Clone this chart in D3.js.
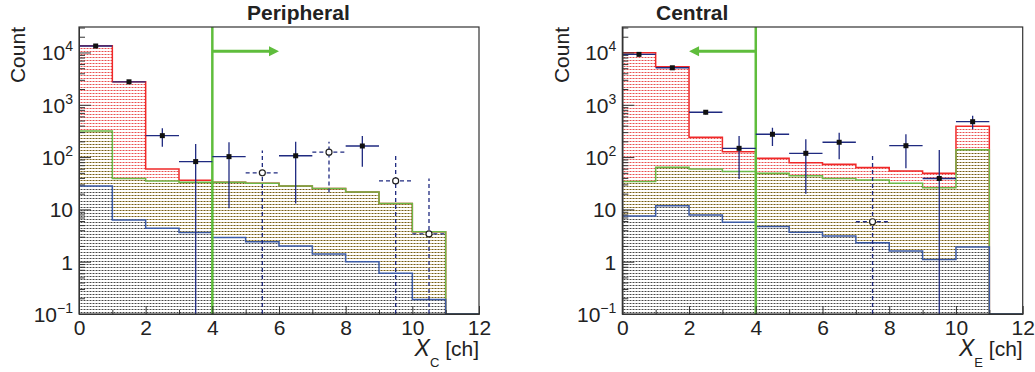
<!DOCTYPE html>
<html>
<head>
<meta charset="utf-8">
<script src="https://cdn.jsdelivr.net/npm/d3@7"></script>
<style>
body { margin: 0; background: #fff; }
svg { font-family: "Liberation Sans", Arial, sans-serif; }
</style>
</head>
<body>
<svg id="chart" width="1035" height="372"></svg>
<script>
// bin lower edges, every bin is 1 ch wide (bin 11 is empty)
var binEdges = [0, 1, 2, 3, 4, 5, 6, 7, 8, 9, 10]
var xTicks = [0, 2, 4, 6, 8, 10, 12]
var yTicks = [0.1, 1, 10, 100, 1000, 10000]
var yTickBase = ['10', '1', '10', '10', '10', '10']
var yTickExp = ['\u22121', '', '', '2', '3', '4']

// Peripheral
var periRed = [13500, 2750, 59, 36, 33, 31.5, 28, 25, 21.5, 13, 3.75]
var periGreen = [316, 39, 35, 33, 33, 31.5, 28, 25, 21.5, 13, 3.75]
var periBlue = [28, 6.3, 4.35, 3.6, 2.9, 2.4, 2.0, 1.4, 1.0, 0.6, 0.19]
var periData = [13300, 2750, 257, 82, 102, 50, 106, 124, 163, 35, 3.4]
var periLow = [13100, 2680, 158, 0.01, 10.5, 0.01, 13, 21, 65, 0.01, 0.01]
var periHigh = [13500, 2820, 355, 178, 192, 133, 196, 196, 253, 114, 39]
var periOpen = [0, 0, 0, 0, 0, 1, 0, 1, 0, 1, 1]

// Central
var centRed = [9900, 5350, 239, 127, 95, 78, 73, 63, 54, 49, 388]
var centGreen = [34, 64, 59, 53, 49, 44, 39, 36.5, 31.5, 26, 138]
var centBlue = [7.5, 11.8, 7.8, 5.7, 4.7, 3.65, 3.1, 2.3, 1.6, 1.1, 1.9]
var centData = [9200, 5100, 720, 147, 273, 118, 192, 5.8, 165, 39, 475]
var centLow = [9050, 5000, 650, 38, 163, 20, 91, 0.01, 61, 0.01, 340]
var centHigh = [9350, 5200, 790, 253, 365, 219, 293, 110, 273, 137, 620]
var centOpen = [0, 0, 0, 0, 0, 0, 0, 1, 0, 0, 0]

var cutValue = 4
var arrowLevel = 10500

var svg = d3.select('#chart')
var defs = svg.append('defs')

// ROOT-like dotted fill styles
function addPattern(id, dot, light) {
    var p = defs.append('pattern')
        .attr('id', id)
        .attr('width', 3)
        .attr('height', 3)
        .attr('patternUnits', 'userSpaceOnUse')
    p.append('rect').attr('width', 3).attr('height', 3).attr('fill', '#fff')
    p.append('rect').attr('x', 1).attr('width', 2).attr('height', 1).attr('fill', light)
    p.append('rect').attr('width', 1).attr('height', 1).attr('fill', dot)
}
addPattern('fillRed', '#e84e4e', '#f5aaaa')
addPattern('fillOlive', '#6a5a22', '#c2ae7a')
addPattern('fillGrey', '#444', '#aaa')

var frame = { top: 27, bottom: 314 }

var panels = [
    { title: 'Peripheral', titleX: 247, sub: 'C', left: 79, right: 479, countX: 25,
      red: periRed, green: periGreen, blue: periBlue,
      data: periData, low: periLow, high: periHigh, open: periOpen, arrowTo: 6 },
    { title: 'Central', titleX: 656, sub: 'E', left: 622.3, right: 1022.7, countX: 569,
      red: centRed, green: centGreen, blue: centBlue,
      data: centData, low: centLow, high: centHigh, open: centOpen, arrowTo: 2 },
]

panels.forEach(function (p, k) {
    var x = d3.scaleLinear().domain([0, 12]).range([p.left, p.right])
    var y = d3.scaleLog().domain([0.1, 30700]).range([frame.bottom, frame.top]).clamp(true)

    var clipId = 'clip' + k
    defs.append('clipPath').attr('id', clipId)
        .append('rect')
        .attr('x', p.left).attr('y', frame.top)
        .attr('width', p.right - p.left).attr('height', frame.bottom - frame.top)

    var g = svg.append('g')
    var plot = g.append('g').attr('clip-path', 'url(#' + clipId + ')')

    // step histogram points, falling to zero after the last bin
    function steps(vals) {
        var pts = binEdges.map(function (e, i) { return { x: e, v: vals[i] } })
        pts.push({ x: 11, v: 1e-6 })
        pts.push({ x: 12, v: 1e-6 })
        return pts
    }
    var area = d3.area().curve(d3.curveStepAfter)
        .x(d => x(d.x)).y0(frame.bottom).y1(d => y(d.v))
    var line = d3.line().curve(d3.curveStepAfter)
        .x(d => x(d.x)).y(d => y(d.v))

    var hists = [
        { vals: p.red, fill: 'url(#fillRed)', stroke: '#f02828' },
        { vals: p.green, fill: 'url(#fillOlive)', stroke: '#6cb847' },
        { vals: p.blue, fill: 'url(#fillGrey)', stroke: '#3b5ba6' },
    ]
    plot.selectAll('path.area')
        .data(hists)
        .join('path')
        .attr('class', 'area')
        .attr('d', d => area(steps(d.vals)))
        .attr('fill', d => d.fill)
    plot.selectAll('path.outline')
        .data(hists)
        .join('path')
        .attr('class', 'outline')
        .attr('d', d => line(steps(d.vals)))
        .attr('fill', 'none')
        .attr('stroke', d => d.stroke)
        .attr('stroke-width', 1.5)

    // cut line and arrow
    plot.append('line')
        .attr('x1', x(cutValue)).attr('x2', x(cutValue))
        .attr('y1', frame.top).attr('y2', frame.bottom)
        .attr('stroke', '#5fbd3c').attr('stroke-width', 2.5)
    var dir = p.arrowTo > cutValue ? 1 : -1
    var tip = x(p.arrowTo)
    var ay = y(arrowLevel)
    plot.append('line')
        .attr('x1', x(cutValue)).attr('x2', tip - dir * 8)
        .attr('y1', ay).attr('y2', ay)
        .attr('stroke', '#5fbd3c').attr('stroke-width', 3)
    plot.append('path')
        .attr('d', 'M' + tip + ',' + ay + 'L' + (tip - dir * 10) + ',' + (ay - 5) + 'L' + (tip - dir * 10) + ',' + (ay + 5) + 'Z')
        .attr('fill', '#5fbd3c')

    // data points with error bars
    var pts = binEdges.map(function (e, i) {
        return { x: e, v: p.data[i], lo: p.low[i], hi: p.high[i], open: p.open[i] }
    })
    plot.selectAll('line.ex')
        .data(pts)
        .join('line')
        .attr('class', 'ex')
        .attr('x1', d => x(d.x)).attr('x2', d => x(d.x + 1))
        .attr('y1', d => y(d.v)).attr('y2', d => y(d.v))
        .attr('stroke', '#1f2a80').attr('stroke-width', 1.3)
        .attr('stroke-dasharray', d => d.open ? '4,3' : null)
    plot.selectAll('line.ey')
        .data(pts)
        .join('line')
        .attr('class', 'ey')
        .attr('x1', d => x(d.x + 0.5)).attr('x2', d => x(d.x + 0.5))
        .attr('y1', d => y(d.lo)).attr('y2', d => y(d.hi))
        .attr('stroke', '#1f2a80').attr('stroke-width', 1.3)
        .attr('stroke-dasharray', d => d.open ? '4,3' : null)
    plot.selectAll('rect.mk')
        .data(pts.filter(d => !d.open))
        .join('rect')
        .attr('class', 'mk')
        .attr('x', d => x(d.x + 0.5) - 2.5).attr('y', d => y(d.v) - 2.5)
        .attr('width', 5).attr('height', 5)
        .attr('fill', '#111')
    plot.selectAll('circle.mk')
        .data(pts.filter(d => d.open))
        .join('circle')
        .attr('class', 'mk')
        .attr('cx', d => x(d.x + 0.5)).attr('cy', d => y(d.v))
        .attr('r', 3)
        .attr('fill', '#fff').attr('stroke', '#222').attr('stroke-width', 1.2)

    // frame
    g.append('rect')
        .attr('x', p.left).attr('y', frame.top)
        .attr('width', p.right - p.left).attr('height', frame.bottom - frame.top)
        .attr('fill', 'none').attr('stroke', '#333').attr('stroke-width', 1.2)

    // axes, ticks pointing inwards
    var minorX = d3.range(1, 12, 2)
    g.append('g').attr('transform', 'translate(0,' + frame.bottom + ')')
        .call(d3.axisBottom(x).tickValues(minorX).tickSize(-4).tickSizeOuter(0).tickFormat(''))
    g.append('g').attr('transform', 'translate(0,' + frame.bottom + ')')
        .call(d3.axisBottom(x).tickValues(xTicks).tickSize(-8).tickSizeOuter(0).tickPadding(6))
        .call(a => a.selectAll('text').attr('font-size', 21).attr('fill', '#222').attr('font-family', null))

    var minorY = []
    yTicks.slice(0, -1).forEach(function (t) {
        for (var m = 2; m <= 9; m++) minorY.push(t * m)
    })
    minorY.push(20000, 30000)
    g.append('g').attr('transform', 'translate(' + p.left + ',0)')
        .call(d3.axisLeft(y).tickValues(minorY).tickSize(-6).tickSizeOuter(0).tickFormat(''))
    g.append('g').attr('transform', 'translate(' + p.left + ',0)')
        .call(d3.axisLeft(y).tickValues(yTicks).tickSize(-12).tickSizeOuter(0).tickFormat(''))
    g.selectAll('.domain').attr('stroke', '#333')
    g.selectAll('.tick line').attr('stroke', '#333')

    var yl = g.selectAll('text.ylab')
        .data(yTicks)
        .join('text')
        .attr('class', 'ylab')
        .attr('x', p.left - 6)
        .attr('y', d => y(d) + 8)
        .attr('text-anchor', 'end')
        .attr('font-size', 21)
        .attr('fill', '#222')
    yl.append('tspan').text((d, i) => yTickBase[i])
    yl.append('tspan')
        .attr('dy', -9)
        .attr('font-size', 14)
        .text((d, i) => yTickExp[i])

    // titles and axis labels
    svg.append('text')
        .attr('x', p.titleX).attr('y', 20)
        .attr('font-size', 21).attr('font-weight', 'bold').attr('fill', '#222')
        .text(p.title)

    svg.append('text')
        .attr('transform', 'translate(' + p.countX + ',' + frame.top + ') rotate(-90)')
        .attr('text-anchor', 'end')
        .attr('font-size', 21).attr('fill', '#222')
        .text('Count')

    var xl = svg.append('text')
        .attr('x', p.right).attr('y', 356)
        .attr('text-anchor', 'end')
        .attr('font-size', 21).attr('fill', '#222')
    xl.append('tspan').attr('font-style', 'italic').attr('font-size', 23).text('X')
    xl.append('tspan').attr('font-size', 13).attr('dy', 11).text(p.sub)
    xl.append('tspan').attr('dy', -11).attr('xml:space', 'preserve').text(' [ch]')
})
</script>
</body>
</html>
